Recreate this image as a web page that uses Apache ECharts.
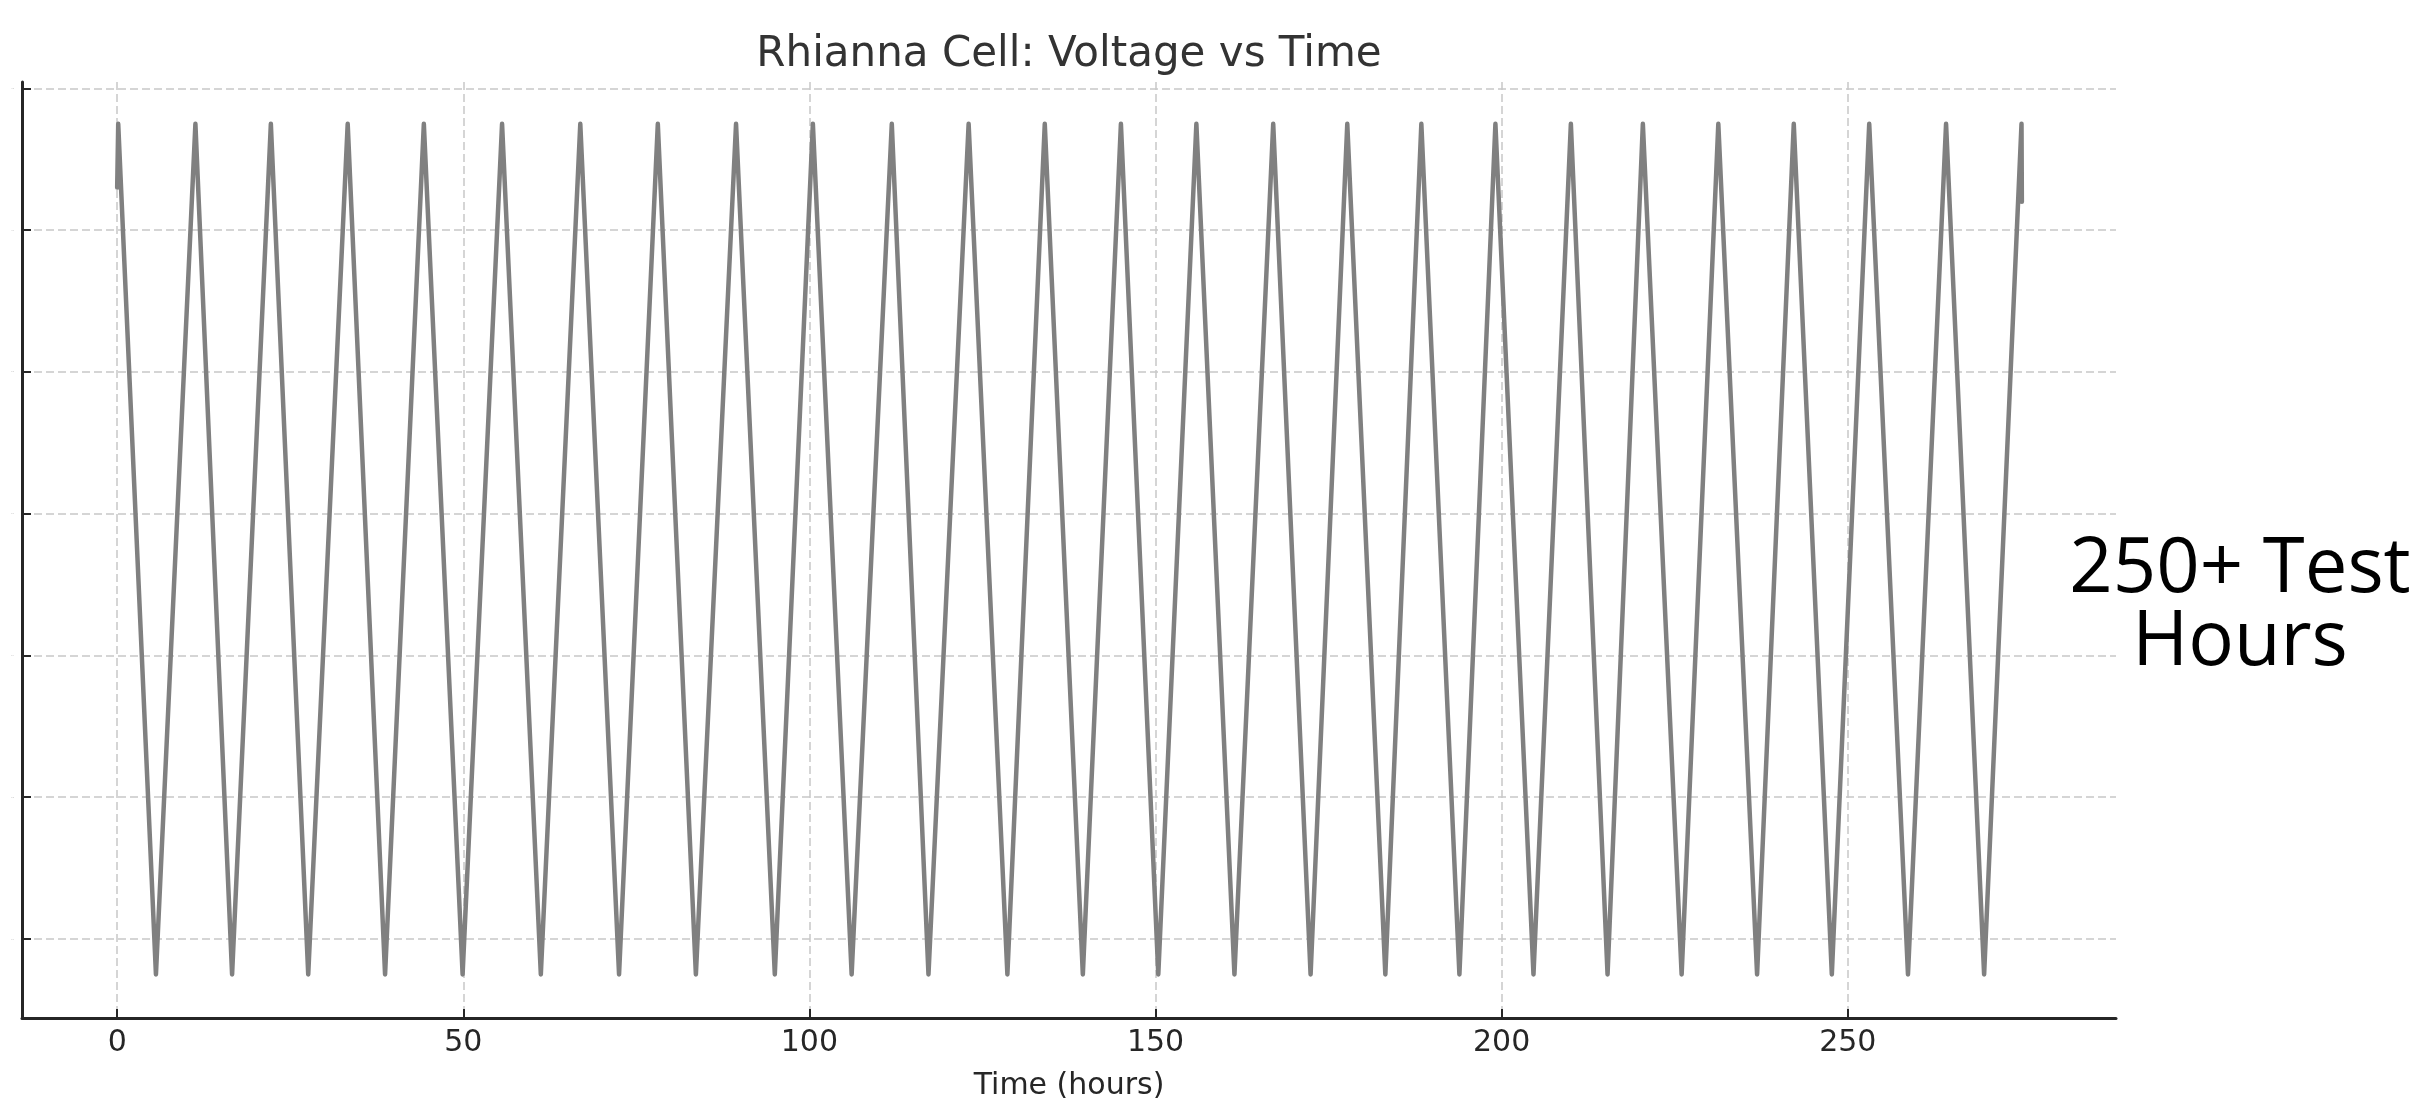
<!DOCTYPE html>
<html>
<head>
<meta charset="utf-8">
<script src="https://cdn.jsdelivr.net/npm/echarts@6/dist/echarts.min.js"></script>
<style>
html,body{margin:0;padding:0;background:#fff;}
#chart{width:2416px;height:1106px;}
</style>
</head>
<body>
<div id="chart"></div>
<script>
// ---- Data ----
const timeHours = [
  0, 0.15,
  5.6, 11.3, 16.6, 22.2, 27.6, 33.3, 38.7, 44.3, 49.9, 55.6,
  61.2, 66.9, 72.5, 78.1, 83.6, 89.4, 95.0, 100.5, 106.1, 111.9,
  117.2, 123.0, 128.6, 134.0, 139.5, 145.0, 150.4, 155.9, 161.4, 167.0,
  172.4, 177.7, 183.2, 188.4, 193.9, 199.1, 204.6, 210.0, 215.3, 220.4,
  226.0, 231.3, 236.9, 242.2, 247.7, 253.1, 258.7, 264.2, 269.7, 275.1,
  275.15
];
const voltage = [
  3.06, 3.15,
  1.95, 3.15, 1.95, 3.15, 1.95, 3.15, 1.95, 3.15, 1.95, 3.15,
  1.95, 3.15, 1.95, 3.15, 1.95, 3.15, 1.95, 3.15, 1.95, 3.15,
  1.95, 3.15, 1.95, 3.15, 1.95, 3.15, 1.95, 3.15, 1.95, 3.15,
  1.95, 3.15, 1.95, 3.15, 1.95, 3.15, 1.95, 3.15, 1.95, 3.15,
  1.95, 3.15, 1.95, 3.15, 1.95, 3.15, 1.95, 3.15, 1.95, 3.15,
  3.04
];
const xTicks = [0, 50, 100, 150, 200, 250];
const yTicks = [2.0, 2.2, 2.4, 2.6, 2.8, 3.0, 3.2];
const titleText = 'Rhianna Cell: Voltage vs Time';
const xAxisName = 'Time (hours)';
const sideNote = '250+ Test\nHours';

const seriesData = timeHours.map((t, i) => [t, voltage[i]]);

const chart = echarts.init(document.getElementById('chart'), null, {renderer: 'canvas'});
const gridLine = {show: true, lineStyle: {color: '#c8c8c8', width: 1.5, type: [8, 4]}};
chart.setOption({
  backgroundColor: '#ffffff',
  animation: false,
  grid: {left: 22, right: 300, top: 82, bottom: 81, containLabel: false},
  xAxis: {
    type: 'value',
    min: -13.75, max: 288.75,
    name: xAxisName,
    nameLocation: 'middle',
    nameGap: 53,
    nameTextStyle: {fontFamily: 'DejaVu Sans', fontSize: 30, color: '#262626'},
    axisLine: {show: true, onZero: false, lineStyle: {color: '#262626', width: 3}},
    axisTick: {show: true, inside: true, length: 9, lineStyle: {color: '#262626', width: 2}, customValues: xTicks},
    axisLabel: {show: true, margin: 10, fontFamily: 'DejaVu Sans', fontSize: 30, color: '#262626', customValues: xTicks},
    splitLine: gridLine
  },
  yAxis: {
    type: 'value',
    min: 1.8885, max: 3.209,
    axisLine: {show: true, onZero: false, lineStyle: {color: '#262626', width: 3}},
    axisTick: {show: true, inside: true, length: 9, lineStyle: {color: '#262626', width: 2}, customValues: yTicks},
    axisLabel: {show: true, margin: 8, fontSize: 2, color: '#bbbbbb', customValues: yTicks, formatter: v => v.toFixed(1)},
    splitLine: gridLine
  },
  graphic: [
    {type: 'text', x: 1069, y: 55,
     style: {text: titleText, x: 0, y: 0, align: 'center', verticalAlign: 'middle',
       fontFamily: 'DejaVu Sans', fontSize: 42, fill: '#333333'}},
    {type: 'text', x: 2240, y: 607,
     style: {text: sideNote, align: 'center', verticalAlign: 'middle', lineHeight: 73,
       fontFamily: 'Open Sans', fontSize: 76, fill: '#000000'}}
  ],
  series: [{
    type: 'line',
    data: seriesData,
    showSymbol: false,
    symbol: 'none',
    lineStyle: {color: '#808080', width: 4.5, join: 'round', cap: 'round'},
    clip: false
  }]
});
</script>
</body>
</html>
